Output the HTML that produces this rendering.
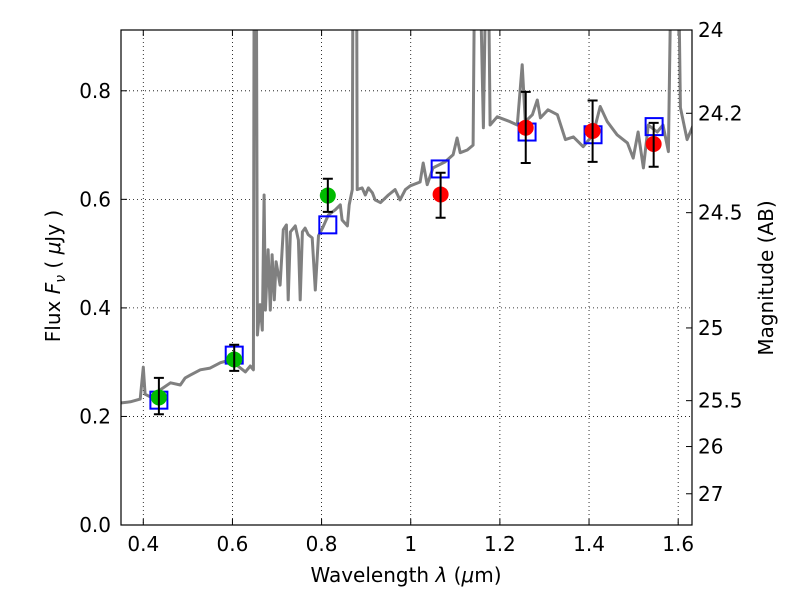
<!DOCTYPE html>
<html><head><meta charset="utf-8"><style>
body{margin:0;background:#fff;}
svg text{font-family:"DejaVu Sans","Liberation Sans",sans-serif;}
</style></head><body>
<svg id="chart" width="800" height="600" xmlns="http://www.w3.org/2000/svg" style="position:absolute;left:0;top:0"></svg>
<script>
const specWave=[0.351,0.371,0.393,0.400,0.404,0.416,0.438,0.461,0.483,0.494,0.505,0.528,0.550,0.573,0.595,0.606,0.629,0.640,0.647,0.649,0.653,0.656,0.662,0.667,0.671,0.674,0.680,0.685,0.689,0.694,0.698,0.707,0.714,0.721,0.725,0.730,0.741,0.748,0.752,0.757,0.763,0.770,0.779,0.786,0.793,0.802,0.815,0.831,0.842,0.846,0.858,0.862,0.869,0.871,0.878,0.880,0.891,0.898,0.905,0.914,0.920,0.932,0.950,0.965,0.976,0.988,0.999,1.021,1.028,1.037,1.050,1.077,1.095,1.104,1.111,1.127,1.140,1.145,1.151,1.163,1.172,1.178,1.194,1.223,1.239,1.250,1.257,1.273,1.284,1.291,1.308,1.329,1.347,1.365,1.387,1.409,1.425,1.441,1.463,1.486,1.499,1.510,1.522,1.533,1.553,1.566,1.578,1.587,1.598,1.605,1.620,1.634];
const specFlux=[0.225,0.227,0.232,0.291,0.241,0.236,0.249,0.262,0.258,0.271,0.276,0.286,0.289,0.299,0.304,0.297,0.282,0.293,0.286,1.2,1.2,0.350,0.406,0.359,0.608,0.396,0.507,0.396,0.498,0.415,0.485,0.442,0.544,0.553,0.415,0.540,0.551,0.525,0.415,0.540,0.547,0.535,0.529,0.433,0.533,0.547,0.571,0.581,0.590,0.562,0.551,0.590,0.618,1.2,1.2,0.618,0.621,0.608,0.621,0.612,0.599,0.594,0.608,0.618,0.599,0.618,0.625,0.632,0.667,0.627,0.658,0.669,0.682,0.713,0.686,0.691,0.700,1.2,1.2,0.732,1.2,0.737,0.752,0.743,0.737,0.848,0.743,0.756,0.783,0.750,0.765,0.756,0.710,0.715,0.697,0.719,0.771,0.743,0.719,0.704,0.676,0.724,0.658,0.737,0.724,0.737,0.688,1.2,1.2,0.769,0.710,0.737];
const greenWave=[0.435,0.604,0.814];
const greenFlux=[0.235,0.305,0.607];
const greenLo=[0.204,0.284,0.577];
const greenHi=[0.271,0.332,0.638];
const redWave=[1.067,1.258,1.408,1.545];
const redFlux=[0.609,0.732,0.726,0.702];
const redLo=[0.566,0.667,0.669,0.660];
const redHi=[0.649,0.798,0.782,0.741];
const modelWave=[0.435,0.604,0.814,1.066,1.261,1.409,1.546];
const modelFlux=[0.230,0.313,0.553,0.656,0.724,0.719,0.734];
const xTicks=[0.4,0.6,0.8,1.0,1.2,1.4,1.6];
const xTickLabels=["0.4","0.6","0.8","1","1.2","1.4","1.6"];
const yTicks=[0.0,0.2,0.4,0.6,0.8];
const yTickLabels=["0.0","0.2","0.4","0.6","0.8"];
const magTicks=[24,24.2,24.5,25,25.5,26,27];
const magTickLabels=["24","24.2","24.5","25","25.5","26","27"];

const L=121,R=692,T=30,B=525,X0=0.35,X1=1.631,Y0=0,Y1=0.912;
const sx=v=>L+(v-X0)/(X1-X0)*(R-L);
const sy=v=>B-(v-Y0)/(Y1-Y0)*(B-T);
const NS="http://www.w3.org/2000/svg";
const svg=document.getElementById('chart');
function mk(tag,attrs,parent){const e=document.createElementNS(NS,tag);for(const k in attrs)e.setAttribute(k,attrs[k]);(parent||svg).appendChild(e);return e;}

const defs=mk('defs',{});
const cp=mk('clipPath',{id:'clip'},defs);
mk('rect',{x:L,y:T,width:R-L,height:B-T},cp);

xTicks.forEach((t,i)=>{
  const g=mk('line',{x1:sx(t),x2:sx(t),y1:T,y2:B,stroke:'#000','stroke-width':0.8,'stroke-dasharray':'1,3'});
  
  
  mk('line',{x1:sx(t),x2:sx(t),y1:B,y2:B-6,stroke:'#000'});
  mk('line',{x1:sx(t),x2:sx(t),y1:T,y2:T+6,stroke:'#000'});
  const tx=mk('text',{x:sx(t),y:B+26,'font-size':20,'text-anchor':'middle'});
  tx.textContent=xTickLabels[i];
  
  
});
yTicks.forEach((t,i)=>{
  const g=mk('line',{x1:L,x2:R,y1:sy(t),y2:sy(t),stroke:'#000','stroke-width':0.8,'stroke-dasharray':'1,3'});
  
  
  mk('line',{x1:L,x2:L+6,y1:sy(t),y2:sy(t),stroke:'#000'});
  const tx=mk('text',{x:L-10,y:sy(t)+7,'font-size':20,'text-anchor':'end'});
  tx.textContent=yTickLabels[i];
  
  
});
magTicks.forEach((m,i)=>{
  const f=Math.pow(10,(23.9-m)/2.5);
  const y=sy(f);
  mk('line',{x1:R,x2:R-6,y1:y,y2:y,stroke:'#000'});
  const tx=mk('text',{x:R+6,y:y+7,'font-size':20});
  tx.textContent=magTickLabels[i];
  
  
});

const gClip=mk('g',{'clip-path':'url(#clip)'});
const pts=specWave.map((w,i)=>sx(w).toFixed(1)+','+sy(specFlux[i]).toFixed(1)).join(' ');
const sp=mk('polyline',{points:pts,fill:'none',stroke:'#808080','stroke-width':3,'stroke-linejoin':'round'},gClip);



modelWave.forEach((w,i)=>{
  const s=mk('rect',{x:sx(w)-8.5,y:sy(modelFlux[i])-8.5,width:17,height:17,fill:'none',stroke:'#0000ff','stroke-width':2},gClip);
  
  
});
function points(ws,fs,lo,hi,col,name){
  ws.forEach((w,i)=>{
    const c=mk('circle',{cx:sx(w),cy:sy(fs[i]),r:8,fill:col},gClip);
    
    
    const x=sx(w);
    const e=mk('path',{d:`M${x},${sy(lo[i])}V${sy(hi[i])}M${x-5},${sy(lo[i])}H${x+5}M${x-5},${sy(hi[i])}H${x+5}`,stroke:'#000','stroke-width':2,fill:'none'},gClip);
    
    
  });
}
points(greenWave,greenFlux,greenLo,greenHi,'#00bb00','green-data-point');
points(redWave,redFlux,redLo,redHi,'#ff0000','red-data-point');

const fr=mk('rect',{x:L,y:T,width:R-L,height:B-T,fill:'none',stroke:'#000','stroke-width':1.2});


</script>
<svg style="position:absolute;left:0;top:0" width="800" height="600" xmlns="http://www.w3.org/2000/svg">
<text x="406" y="582" font-size="20" text-anchor="middle">Wavelength  <tspan font-style="italic">λ</tspan> (<tspan font-style="italic">μ</tspan>m)</text>
<text transform="translate(60,276) rotate(-90)" font-size="20" text-anchor="middle">Flux  <tspan font-style="italic">F</tspan><tspan font-style="italic" font-size="14" dy="5">ν</tspan><tspan dy="-5">  (  </tspan><tspan font-style="italic">μ</tspan>Jy )</text>
<text transform="translate(773,278) rotate(-90)" font-size="20" text-anchor="middle">Magnitude (AB)</text>
</svg>
</body></html>
